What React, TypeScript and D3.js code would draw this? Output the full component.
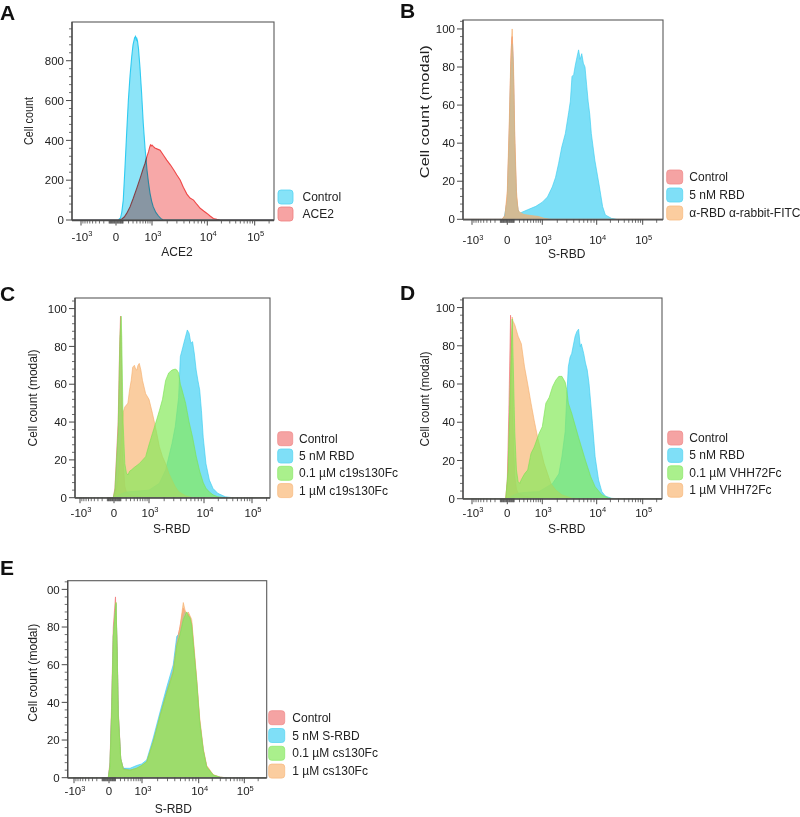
import React from 'react';
import * as d3 from 'd3';

type Pt = [number, number];

// ---------- shared axis data ----------
const xTickValues = [-1000, 0, 1000, 10000, 100000];
const xTickBase = ['-10', '0', '10', '10', '10'];
const xTickExp = ['3', '', '3', '4', '5'];
const xMinorValues: number[] = [
  -900, -800, -700, -600, -500, -400, -300, -200, -100,
  -90, -80, -70, -60, -50, -40, -30, -20, -10,
  10, 20, 30, 40, 50, 60, 70, 80, 90,
  100, 200, 300, 400, 500, 600, 700, 800, 900,
  2000, 3000, 4000, 5000, 6000, 7000, 8000, 9000,
  20000, 30000, 40000, 50000, 60000, 70000, 80000, 90000,
  200000,
];
const yTicksCount = [0, 200, 400, 600, 800];
const yLabelsCount = ['0', '200', '400', '600', '800'];
const yTicksModal = [0, 20, 40, 60, 80, 100];
const yLabelsModal = ['0', '20', '40', '60', '80', '100'];
const yLabelsModalE = ['0', '20', '40', '60', '80', '00'];

// ---------- Panel A ----------
const aControl: Pt[] = [[-5000, 0], [30, 0], [60, 10], [80, 40], [103, 100], [130, 250], [160, 420], [196, 600], [230, 720], [269, 820], [300, 880], [340, 915], [365, 922], [385, 905], [400, 912], [420, 900], [450, 860], [495, 770], [550, 640], [610, 487], [680, 360], [760, 251], [830, 185], [900, 134], [980, 95], [1060, 67], [1200, 38], [1360, 20], [1500, 8], [1650, 1], [1800, 0], [1e6, 0]];
const aACE2: Pt[] = [[-5000, 0], [40, 0], [80, 5], [120, 15], [163, 33], [230, 65], [306, 109], [400, 160], [500, 209], [600, 255], [680, 285], [760, 320], [830, 343], [880, 365], [920, 377], [960, 372], [1000, 376], [1060, 370], [1150, 362], [1300, 356], [1460, 351], [1700, 325], [1960, 301], [2300, 276], [2640, 251], [3000, 226], [3430, 201], [3900, 165], [4500, 130], [5100, 110], [5860, 100], [6700, 78], [7600, 59], [8700, 45], [9900, 33], [11500, 20], [13500, 8], [16000, 3], [19000, 0], [1e6, 0]];

// ---------- Panel B ----------
const bControl: Pt[] = [[-5000, 0], [-80, 0], [-50, 1], [-30, 2], [0, 12], [25, 45], [48, 82], [60, 94], [68, 96], [80, 88], [90, 75], [110, 40], [140, 12], [170, 5], [190, 3], [300, 2], [500, 1.5], [800, 1], [1000, 0], [1e6, 0]];
const bRBD: Pt[] = [[-5000, 0], [-80, 0], [-40, 1], [0, 10], [25, 42], [48, 78], [68, 92], [80, 84], [90, 70], [110, 36], [140, 11], [170, 5], [205, 3.2], [400, 5], [690, 6.8], [1000, 9], [1280, 11.7], [1600, 17], [1850, 22], [2120, 29.4], [2430, 38], [2820, 45], [3240, 56], [3480, 62], [3720, 75], [3990, 76], [4270, 81], [4550, 85], [4870, 89], [5190, 84], [5530, 87], [5900, 82], [6300, 80], [6700, 71], [7140, 62], [7620, 55], [8100, 45], [9300, 31], [11500, 17], [13500, 6.7], [15500, 2.3], [21000, 0.5], [28000, 0], [1e6, 0]];
const bFITC: Pt[] = [[-5000, 0], [-80, 0], [-50, 1], [-30, 2], [0, 15], [25, 50], [48, 85], [68, 100], [80, 85], [90, 80], [110, 45], [140, 15], [170, 5], [190, 4], [300, 2.5], [500, 2], [800, 1.5], [1100, 0.5], [1500, 0], [1e6, 0]];

// ---------- Panel C ----------
const cControl: Pt[] = [[-5000, 0], [-10, 0], [12, 5], [57, 40], [80, 80], [94, 96], [105, 85], [120, 50], [139, 20], [172, 6], [205, 3], [300, 1.5], [600, 0.5], [1000, 0], [1e6, 0]];
const cRBD: Pt[] = [[-5000, 0], [0, 0], [100, 2], [205, 3], [500, 3.5], [1000, 4], [1620, 7.6], [2130, 14.6], [2790, 28.7], [3190, 37.6], [3660, 53], [3930, 74.6], [4210, 78], [4520, 81.7], [5200, 88.7], [5580, 87], [5980, 81.7], [6400, 82.5], [6870, 76], [7370, 67.5], [7890, 62], [8460, 57], [9060, 46], [9700, 32], [11000, 18], [13000, 9.3], [15500, 4.9], [19500, 2.3], [28000, 0.5], [40000, 0], [1e6, 0]];
const cLow: Pt[] = [[-5000, 0], [-10, 0], [12, 4], [57, 35], [85, 85], [105, 96], [115, 85], [139, 40], [172, 18], [205, 13], [237, 12], [276, 14], [317, 14.6], [400, 16], [565, 18], [830, 21.7], [1000, 28], [1180, 34], [1390, 40], [1620, 46], [1860, 52], [2130, 62], [2430, 66], [2790, 67.5], [3190, 68], [3420, 67.5], [3660, 66], [3930, 60], [4210, 57], [4850, 50], [5580, 40], [6400, 32], [7370, 22], [8460, 14], [9700, 8], [11000, 5], [13000, 3], [15500, 1.5], [19500, 0.5], [28000, 0], [1e6, 0]];
const cHigh: Pt[] = [[-5000, 0], [12, 0], [57, 10], [110, 30], [139, 45], [172, 48], [205, 49], [237, 50], [276, 57], [317, 62], [356, 69], [405, 70], [440, 68], [478, 67.5], [520, 70], [565, 71], [625, 67.5], [690, 62], [830, 55], [1000, 52], [1180, 44.6], [1390, 36], [1620, 27], [1860, 21.7], [2130, 18], [2430, 13], [2790, 9.3], [3190, 5.8], [3660, 3.2], [4850, 1], [6400, 0], [1e6, 0]];

// ---------- Panel D ----------
const dControl: Pt[] = [[-5000, 0], [-20, 0], [0, 10], [20, 45], [44, 96], [55, 80], [68, 60], [90, 30], [110, 12], [140, 5], [172, 3], [300, 1.5], [600, 0.5], [1000, 0], [1e6, 0]];
const dRBD: Pt[] = [[-5000, 0], [0, 0], [100, 2], [205, 3], [500, 3.5], [830, 3.7], [1620, 8], [2140, 13], [2440, 22], [2800, 35], [2990, 53], [3200, 69], [3440, 74], [3680, 76], [4230, 85], [4530, 87.4], [4870, 88.7], [5220, 79.6], [5440, 81], [5980, 76], [6420, 71], [6880, 67.4], [7380, 60.4], [7910, 50], [8460, 39.4], [9400, 22], [11000, 9.8], [13000, 3.7], [15500, 1.4], [21000, 0.2], [30000, 0], [1e6, 0]];
const dLow: Pt[] = [[-5000, 0], [-20, 0], [10, 15], [40, 60], [68, 94], [85, 70], [110, 35], [140, 15], [172, 9], [205, 8], [240, 10], [317, 13], [405, 15], [510, 23.7], [625, 27], [830, 34], [1000, 37.7], [1190, 50], [1390, 53], [1620, 58.6], [1870, 62], [2140, 64], [2440, 64], [2800, 61], [2990, 57], [3200, 50], [3680, 44.7], [4870, 32], [6420, 20], [7910, 11.5], [9400, 6.3], [13000, 2], [18200, 0.3], [25000, 0], [1e6, 0]];
const dHigh: Pt[] = [[-5000, 0], [-20, 0], [10, 12], [40, 55], [68, 95], [80, 93], [110, 91], [172, 85], [240, 81], [317, 69], [405, 60], [510, 50], [625, 41], [760, 32.5], [920, 25.5], [1090, 18.5], [1280, 13.3], [1500, 8], [1870, 4.5], [2440, 2], [3680, 0.3], [5000, 0], [1e6, 0]];

// ---------- Panel E ----------
const eControl: Pt[] = [[-5000, 0], [-9, 0], [13, 8], [38, 40], [63, 80], [100, 96], [130, 70], [154, 35], [205, 10], [266, 5], [464, 4], [726, 5], [980, 6], [1244, 8], [1655, 19], [2217, 33], [2903, 46], [3770, 57], [4320, 72], [4902, 80], [5570, 90], [5946, 88], [6345, 85], [6743, 87], [7194, 85], [7673, 82], [8157, 72], [9270, 51], [10500, 30], [12650, 14.5], [15050, 5.8], [21000, 1.4], [30000, 0.2], [40000, 0], [1e6, 0]];
const eRBD: Pt[] = [[-5000, 0], [-9, 0], [13, 6], [38, 35], [63, 75], [110, 92], [130, 68], [154, 33], [205, 10], [266, 5], [464, 5], [726, 6.5], [980, 7.3], [1244, 9.4], [1655, 21], [2217, 35], [2903, 48], [3770, 60], [4320, 75], [4902, 77], [5570, 86], [5946, 88], [6345, 84], [6743, 86], [7194, 84], [7673, 80], [8157, 70], [9270, 50], [10500, 29], [12650, 14], [15050, 5.5], [21000, 1.2], [30000, 0.2], [40000, 0], [1e6, 0]];
const eLow: Pt[] = [[-5000, 0], [-9, 0], [13, 6], [38, 35], [63, 75], [110, 93], [130, 68], [154, 33], [205, 10], [266, 4.5], [464, 4], [726, 5], [980, 6.5], [1244, 8.5], [1655, 19], [2217, 33], [2903, 45], [3770, 56], [4320, 70], [4902, 76], [5570, 84], [5946, 86], [6345, 88], [6743, 86], [7194, 85], [7673, 81], [8157, 71], [9270, 51], [10500, 30], [12650, 14.5], [15050, 5.8], [21000, 1.4], [30000, 0.2], [40000, 0], [1e6, 0]];
const eHigh: Pt[] = [[-5000, 0], [-9, 0], [13, 6], [38, 35], [63, 75], [110, 93], [130, 68], [154, 33], [205, 10], [266, 4.5], [464, 4], [726, 5], [980, 6.5], [1244, 8.5], [1655, 19], [2217, 33], [2903, 45], [3770, 57], [4320, 71], [4902, 80], [5570, 93], [5946, 89], [6345, 87], [6743, 88], [7194, 86], [7673, 84], [8157, 74], [9270, 53], [10500, 32], [12650, 15.5], [15050, 6.5], [21000, 1.6], [30000, 0.3], [40000, 0], [1e6, 0]];

// ---------- styles ----------
const FONT = '"Liberation Sans", Arial, Helvetica, sans-serif';
type Col = { fill: string; stroke: string; swatch: string; swStroke: string };
const C_PINK: Col = { fill: '#f07878', stroke: '#f07070', swatch: '#f5a3a3', swStroke: '#ef8d8d' };
const C_CYAN: Col = { fill: '#45d2f4', stroke: '#3ccdf0', swatch: '#7fdff7', swStroke: '#5bd5f3' };
const C_GREEN: Col = { fill: '#86ea5b', stroke: '#7ce352', swatch: '#aaf08c', swStroke: '#90e870' };
const C_ORANGE: Col = { fill: '#f8b877', stroke: '#f5ae6c', swatch: '#fbcd9f', swStroke: '#f7bb83' };
const A_CYAN: Col = { fill: '#8ce4f8', stroke: '#1fc6ef', swatch: '#86e3f8', swStroke: '#55d3f2' };
const A_RED: Col = { fill: '#f7a8a8', stroke: '#ee3a3a', swatch: '#f7a3a3', swStroke: '#ef7f7f' };

type Series = { name: string; data: Pt[]; col: Col; sw?: number };
type PanelCfg = {
  id: string; letter: string; letterX: number; letterY: number;
  left: number; right: number; top: number; bottom: number;
  xTickPx: number[]; yMax: number; yTicks: number[]; yLabels: string[]; yMinorStep: number;
  tickLabelY: number; xTitle: string; xTitleX: number; xTitleY: number;
  yTitle: string; yTitleX: number; yTitleY: number; yTitleLen: number;
  multiply: boolean; opacity: number;
  series: Series[]; legend: Series[]; legX: number; legTop: number; legStep: number; legTextX: number; swW: number;
};

const panels: PanelCfg[] = [
  {
    id: 'A', letter: 'A', letterX: 0, letterY: 20, left: 72, right: 274, top: 22, bottom: 220,
    xTickPx: [81, 116, 152, 207.3, 254.7], yMax: 994.5, yTicks: yTicksCount, yLabels: yLabelsCount, yMinorStep: 40,
    tickLabelY: 240.5, xTitle: 'ACE2', xTitleX: 177, xTitleY: 256,
    yTitle: 'Cell count', yTitleX: 29, yTitleY: 121, yTitleLen: 48, multiply: true, opacity: 1,
    series: [
      { name: 'ACE2', data: aACE2, col: A_RED, sw: 1.1 },
      { name: 'Control', data: aControl, col: A_CYAN, sw: 1.1 },
    ],
    legend: [
      { name: 'Control', data: [], col: A_CYAN },
      { name: 'ACE2', data: [], col: A_RED },
    ],
    legX: 278, legTop: 190, legStep: 17, legTextX: 302.5, swW: 15,
  },
  {
    id: 'B', letter: 'B', letterX: 400, letterY: 18, left: 463, right: 663, top: 20, bottom: 219.3,
    xTickPx: [472, 507.3, 542.3, 596.7, 642.7], yMax: 104.7, yTicks: yTicksModal, yLabels: yLabelsModal, yMinorStep: 4,
    tickLabelY: 244, xTitle: 'S-RBD', xTitleX: 566.7, xTitleY: 258,
    yTitle: 'Cell count (modal)', yTitleX: 425, yTitleY: 111.7, yTitleLen: 133, multiply: false, opacity: 0.7,
    series: [
      { name: 'Control', data: bControl, col: C_PINK },
      { name: '5 nM RBD', data: bRBD, col: C_CYAN },
      { name: 'α-RBD α-rabbit-FITC', data: bFITC, col: C_ORANGE },
    ],
    legend: [
      { name: 'Control', data: [], col: C_PINK },
      { name: '5 nM RBD', data: [], col: C_CYAN },
      { name: 'α-RBD α-rabbit-FITC', data: [], col: C_ORANGE },
    ],
    legX: 666.7, legTop: 170, legStep: 18, legTextX: 689.3, swW: 16,
  },
  {
    id: 'C', letter: 'C', letterX: 0, letterY: 301, left: 75, right: 270, top: 298, bottom: 497.7,
    xTickPx: [80, 114, 149, 204, 252], yMax: 105.6, yTicks: yTicksModal, yLabels: yLabelsModal, yMinorStep: 4,
    tickLabelY: 516.7, xTitle: 'S-RBD', xTitleX: 171.7, xTitleY: 533,
    yTitle: 'Cell count (modal)', yTitleX: 33, yTitleY: 398, yTitleLen: 97, multiply: false, opacity: 0.7,
    series: [
      { name: 'Control', data: cControl, col: C_PINK },
      { name: '5 nM RBD', data: cRBD, col: C_CYAN },
      { name: '1 µM c19s130Fc', data: cHigh, col: C_ORANGE },
      { name: '0.1 µM c19s130Fc', data: cLow, col: C_GREEN },
    ],
    legend: [
      { name: 'Control', data: [], col: C_PINK },
      { name: '5 nM RBD', data: [], col: C_CYAN },
      { name: '0.1 µM c19s130Fc', data: [], col: C_GREEN },
      { name: '1 µM c19s130Fc', data: [], col: C_ORANGE },
    ],
    legX: 277.7, legTop: 431.7, legStep: 17.3, legTextX: 299, swW: 15,
  },
  {
    id: 'D', letter: 'D', letterX: 400, letterY: 300, left: 463, right: 662, top: 298, bottom: 498.7,
    xTickPx: [472, 507.3, 542.3, 596.7, 642.7], yMax: 105, yTicks: yTicksModal, yLabels: yLabelsModal, yMinorStep: 4,
    tickLabelY: 516.5, xTitle: 'S-RBD', xTitleX: 566.7, xTitleY: 533,
    yTitle: 'Cell count (modal)', yTitleX: 425, yTitleY: 399, yTitleLen: 95, multiply: false, opacity: 0.7,
    series: [
      { name: 'Control', data: dControl, col: C_PINK },
      { name: '5 nM RBD', data: dRBD, col: C_CYAN },
      { name: '1 µM VHH72Fc', data: dHigh, col: C_ORANGE },
      { name: '0.1 µM VHH72Fc', data: dLow, col: C_GREEN },
    ],
    legend: [
      { name: 'Control', data: [], col: C_PINK },
      { name: '5 nM RBD', data: [], col: C_CYAN },
      { name: '0.1 µM VHH72Fc', data: [], col: C_GREEN },
      { name: '1 µM VHH72Fc', data: [], col: C_ORANGE },
    ],
    legX: 667.7, legTop: 431, legStep: 17.4, legTextX: 689.3, swW: 15,
  },
  {
    id: 'E', letter: 'E', letterX: 0, letterY: 575, left: 67.7, right: 266.7, top: 580.7, bottom: 777.7,
    xTickPx: [74, 109, 142, 198.7, 244.3], yMax: 104.6, yTicks: yTicksModal, yLabels: yLabelsModalE, yMinorStep: 4,
    tickLabelY: 795, xTitle: 'S-RBD', xTitleX: 173.3, xTitleY: 813.3,
    yTitle: 'Cell count (modal)', yTitleX: 33, yTitleY: 672.7, yTitleLen: 98, multiply: false, opacity: 0.7,
    series: [
      { name: 'Control', data: eControl, col: C_PINK },
      { name: '5 nM S-RBD', data: eRBD, col: C_CYAN },
      { name: '1 µM cs130Fc', data: eHigh, col: C_ORANGE },
      { name: '0.1 µM cs130Fc', data: eLow, col: C_GREEN },
    ],
    legend: [
      { name: 'Control', data: [], col: C_PINK },
      { name: '5 nM S-RBD', data: [], col: C_CYAN },
      { name: '0.1 µM cs130Fc', data: [], col: C_GREEN },
      { name: '1 µM cs130Fc', data: [], col: C_ORANGE },
    ],
    legX: 268.7, legTop: 710.7, legStep: 17.8, legTextX: 292.3, swW: 16,
  },
];

function Panel({ cfg }: { cfg: PanelCfg }) {
  const x = d3.scaleSymlog().constant(300).domain(xTickValues).range(cfg.xTickPx);
  const y = d3.scaleLinear().domain([0, cfg.yMax]).range([cfg.bottom, cfg.top]);
  const area = d3.area<Pt>().x((d) => x(d[0])).y0(y(0)).y1((d) => y(d[1]));
  const line = d3.line<Pt>().x((d) => x(d[0])).y((d) => y(d[1]));
  const clipId = `clip-${cfg.id}`;
  const yMinor = d3.range(0, cfg.yMax, cfg.yMinorStep).filter((v) => !cfg.yTicks.includes(v));
  const axisCol = '#4a4a4a';
  return (
    <g>
      <defs>
        <clipPath id={clipId}>
          <rect x={cfg.left} y={cfg.top} width={cfg.right - cfg.left} height={cfg.bottom - cfg.top} />
        </clipPath>
      </defs>
      <text x={cfg.letterX} y={cfg.letterY} fontFamily={FONT} fontWeight="bold" fontSize={21} fill="#111">{cfg.letter}</text>
      <g clipPath={`url(#${clipId})`}>
        {cfg.series.map((s) => (
          <g key={s.name} style={cfg.multiply ? { mixBlendMode: 'multiply' } : undefined}>
            <path d={area(s.data) || ''} fill={s.col.fill} fillOpacity={cfg.opacity} />
            <path d={line(s.data) || ''} fill="none" stroke={s.col.stroke} strokeWidth={s.sw ?? 0.8} strokeOpacity={cfg.multiply ? 0.9 : 0.8} />
          </g>
        ))}
      </g>
      {/* frame */}
      <rect x={cfg.left} y={cfg.top} width={cfg.right - cfg.left} height={cfg.bottom - cfg.top} fill="none" stroke="#5a5a5a" strokeWidth={1.1} />
      <line x1={cfg.left} x2={cfg.right} y1={cfg.bottom + 0.5} y2={cfg.bottom + 0.5} stroke={axisCol} strokeWidth={1.3} />
      <line x1={cfg.left} x2={cfg.left} y1={cfg.top} y2={cfg.bottom} stroke={axisCol} strokeWidth={1.3} />
      {/* x ticks */}
      {xMinorValues.map((v) => (
        <line key={'xm' + v} x1={x(v)} x2={x(v)} y1={cfg.bottom} y2={cfg.bottom + 3.5} stroke={axisCol} strokeWidth={0.8} />
      ))}
      {xTickValues.map((v, i) => (
        <g key={'xt' + v}>
          <line x1={x(v)} x2={x(v)} y1={cfg.bottom} y2={cfg.bottom + 5.5} stroke={axisCol} strokeWidth={1} />
          <text x={x(v) + (xTickExp[i] ? 1 : 0)} y={cfg.tickLabelY} textAnchor="middle" fontFamily={FONT} fontSize={11.5} fill="#222">
            {xTickBase[i]}
            {xTickExp[i] ? <tspan dy={-4.5} fontSize={7.5}>{xTickExp[i]}</tspan> : null}
          </text>
        </g>
      ))}
      {/* y ticks */}
      {yMinor.map((v) => (
        <line key={'ym' + v} x1={cfg.left} x2={cfg.left - 3} y1={y(v)} y2={y(v)} stroke={axisCol} strokeWidth={0.8} />
      ))}
      {cfg.yTicks.map((v, i) => (
        <g key={'yt' + v}>
          <line x1={cfg.left} x2={cfg.left - 6} y1={y(v)} y2={y(v)} stroke={axisCol} strokeWidth={1} />
          <text x={cfg.left - 8} y={y(v)} dy="0.36em" textAnchor="end" fontFamily={FONT} fontSize={11.5} fill="#222">{cfg.yLabels[i]}</text>
        </g>
      ))}
      <text x={cfg.xTitleX} y={cfg.xTitleY} textAnchor="middle" fontFamily={FONT} fontSize={12} fill="#222">{cfg.xTitle}</text>
      <text
        transform={`translate(${cfg.yTitleX},${cfg.yTitleY}) rotate(-90)`}
        textAnchor="middle" dy="0.35em" fontFamily={FONT} fontSize={12} fill="#222"
        textLength={cfg.yTitleLen} lengthAdjust="spacingAndGlyphs"
      >{cfg.yTitle}</text>
      {/* legend */}
      {cfg.legend.map((s, i) => (
        <g key={'lg' + s.name}>
          <rect x={cfg.legX} y={cfg.legTop + i * cfg.legStep} width={cfg.swW} height={14} rx={3} fill={s.col.swatch} stroke={s.col.swStroke} strokeWidth={0.8} />
          <text x={cfg.legTextX} y={cfg.legTop + i * cfg.legStep + 11} fontFamily={FONT} fontSize={12} fill="#222">{s.name}</text>
        </g>
      ))}
    </g>
  );
}

export default function App() {
  return (
    <svg width={800} height={817} style={{ position: 'absolute', left: 0, top: 0, background: '#fff' }}>
      <rect x={0} y={0} width={800} height={817} fill="#fff" />
      {panels.map((p) => <Panel key={p.id} cfg={p} />)}
    </svg>
  );
}
